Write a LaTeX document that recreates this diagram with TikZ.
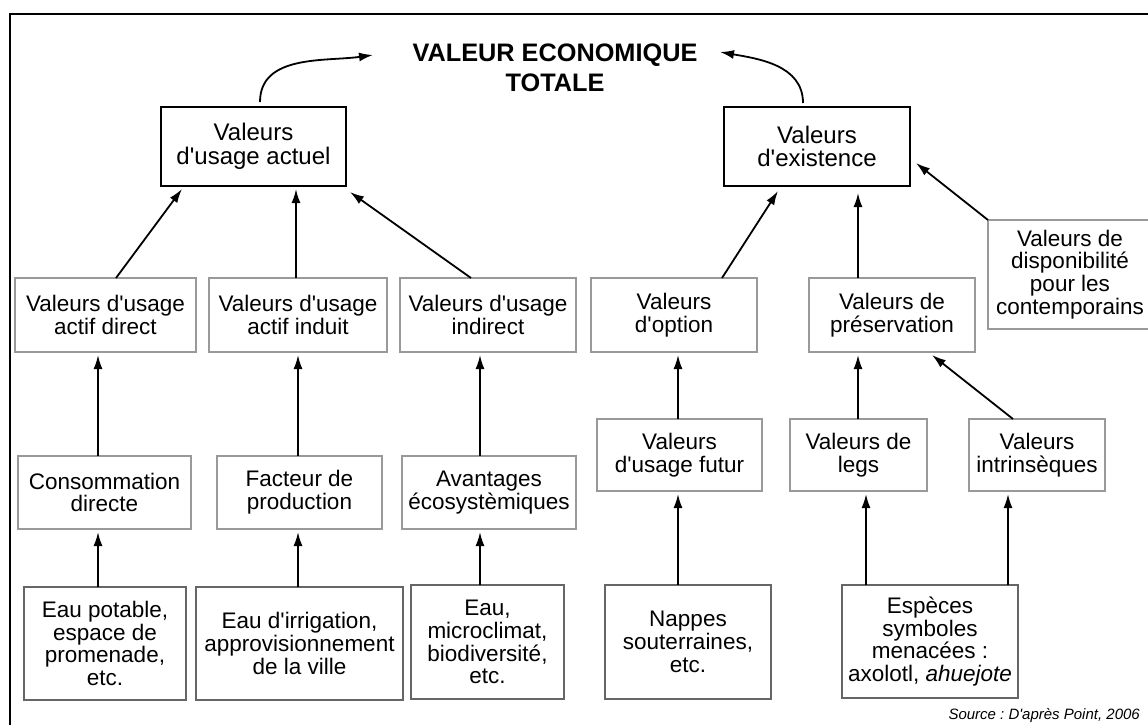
\documentclass[tikz,border=0pt]{standalone}
\usepackage{fontspec}
\setmainfont{Liberation Sans}
\usetikzlibrary{arrows.meta}
\newcommand{\apos}{\textquotesingle}
\frenchspacing
\begin{document}
\begin{tikzpicture}[x=1pt,y=-1pt,
  basebox/.style={inner sep=0pt, outer sep=0pt, align=center, font=\fontsize{22.5}{22.8}\selectfont},
  topbox/.style={basebox, draw=black, line width=2pt, font=\fontsize{24}{23.5}\selectfont},
  midbox/.style={basebox, draw=black!40, line width=1.2pt},
  lowbox/.style={basebox, draw=black!60, line width=1.3pt},
  arr/.style={line width=1.8pt, -{Latex[length=14pt,width=9pt]}},
  title/.style={inner sep=0pt, align=center, font=\bfseries\fontsize{25.3}{30}\selectfont}]
\useasboundingbox (0,0) rectangle (1148,724);
\clip (0,0) rectangle (1148,724);
\fill[white] (0,0) rectangle (1148,724);
% outer frame
\draw[line width=2.5pt] (10,800) -- (10,14) -- (1250,14);
% title
\node[title] (vet) at (555,68) {VALEUR ECONOMIQUE\\TOTALE};
% top boxes
\node[topbox, minimum width=185pt, minimum height=79pt] (ua) at (253.5,146.5) {Valeurs\\d\apos usage actuel};
\node[topbox, minimum width=186pt, minimum height=79pt] (ex) at (817,146.5) {Valeurs\\d\apos existence};
% row 2
\node[midbox, minimum width=181pt, minimum height=74pt] (ad) at (105.5,315) {Valeurs d\apos usage\\actif direct};
\node[midbox, minimum width=178pt, minimum height=74pt] (ai) at (298,315) {Valeurs d\apos usage\\actif induit};
\node[midbox, minimum width=176pt, minimum height=74pt] (ind) at (488,315) {Valeurs d\apos usage\\indirect};
\node[midbox, minimum width=166pt, minimum height=74pt] (op) at (674,315) {Valeurs\\d\apos option};
\node[midbox, minimum width=166pt, minimum height=74pt] (pr) at (892,315) {Valeurs de\\préservation};
\node[midbox, minimum width=164pt, minimum height=109pt] (dp) at (1070,274.5) {Valeurs de\\disponibilité\\pour les\\contemporains};
% row 3
\node[midbox, minimum width=173pt, minimum height=73pt] (co) at (104.5,492.5) {Consommation\\directe};
\node[midbox, minimum width=165pt, minimum height=73pt] (fa) at (299.5,492.5) {Facteur de\\production};
\node[midbox, minimum width=174pt, minimum height=73pt] (av) at (489,492.5) {Avantages\\écosystèmiques};
\node[midbox, minimum width=165pt, minimum height=72pt] (uf) at (679.5,455) {Valeurs\\d\apos usage futur};
\node[midbox, minimum width=137pt, minimum height=72pt] (lg) at (858.5,455) {Valeurs de\\legs};
\node[midbox, minimum width=136pt, minimum height=72pt] (in) at (1037,455) {Valeurs\\intrinsèques};
% row 4
\node[lowbox, minimum width=162pt, minimum height=113pt] (ep) at (105,643.5) {Eau potable,\\espace de\\promenade,\\etc.};
\node[lowbox, minimum width=207pt, minimum height=113pt] (ir) at (299.5,643.5) {Eau d\apos irrigation,\\approvisionnement\\de la ville};
\node[lowbox, minimum width=153pt, minimum height=114pt] (mc) at (487.5,642) {Eau,\\microclimat,\\biodiversité,\\etc.};
\node[lowbox, minimum width=166pt, minimum height=114pt] (na) at (688,642) {Nappes\\souterraines,\\etc.};
\node[lowbox, minimum width=176pt, minimum height=113pt] (es) at (930,641.5) {Espèces\\symboles\\menacées :\\axolotl, \textit{ahuejote}};
% source
\node[inner sep=0pt, anchor=base east, font=\itshape\fontsize{15}{17}\selectfont] (src) at (1140,719) {Source : D\apos après Point, 2006};
% curved arrows to title
\draw[arr] ([xshift=6.5pt,yshift=5pt]ua.north) to[out=90,in=188] ([xshift=-182pt,yshift=13pt]vet.center);
\draw[arr] ([xshift=-14pt,yshift=4pt]ex.north) to[out=90,in=-10] ([xshift=165pt,yshift=16pt]vet.center);
% arrows to top boxes
\draw[arr] ([xshift=10.5pt]ad.north) -- ([xshift=-71.5pt,yshift=-3pt]ua.south);
\draw[arr] ([xshift=-2pt]ai.north) -- ([xshift=42.5pt,yshift=-3pt]ua.south);
\draw[arr] ([xshift=-17pt]ind.north) -- ([xshift=4pt,yshift=-6pt]ua.south east);
\draw[arr] ([xshift=48pt]op.north) -- ([xshift=-39pt,yshift=-5pt]ex.south);
\draw[arr] ([xshift=-34pt]pr.north) -- ([xshift=41pt,yshift=-7pt]ex.south);
\draw[arr] (dp.north west) -- ([xshift=6pt,yshift=-16.5pt]ex.east);
% row 3 -> row 2
\draw[arr] ([xshift=-6.5pt]co.north) -- ([xshift=-7.5pt,yshift=-3pt]ad.south);
\draw[arr] ([xshift=-1.5pt]fa.north) -- ([yshift=-3pt]ai.south);
\draw[arr] ([xshift=-9pt]av.north) -- ([xshift=-8pt,yshift=-3pt]ind.south);
\draw[arr] ([xshift=-1.5pt]uf.north) -- ([xshift=4pt,yshift=-3pt]op.south);
\draw[arr] ([xshift=-0.5pt]lg.north) -- ([xshift=-34pt,yshift=-3pt]pr.south);
\draw[arr] ([xshift=-24pt]in.north) -- ([xshift=-43pt,yshift=-3pt]pr.south east);
% row 4 -> row 3
\draw[arr] ([xshift=-7pt]ep.north) -- ([xshift=-6.5pt,yshift=-3pt]co.south);
\draw[arr] ([xshift=-1.5pt]ir.north) -- ([xshift=-1.5pt,yshift=-3pt]fa.south);
\draw[arr] ([xshift=-7.5pt]mc.north) -- ([xshift=-9pt,yshift=-3pt]av.south);
\draw[arr] ([xshift=-10pt]na.north) -- ([xshift=-1.5pt,yshift=-3pt]uf.south);
\draw[arr] ([xshift=-64pt]es.north) -- ([xshift=7.5pt,yshift=-3pt]lg.south);
\draw[arr] ([xshift=78pt]es.north) -- ([xshift=-29pt,yshift=-3pt]in.south);
\end{tikzpicture}
\end{document}
